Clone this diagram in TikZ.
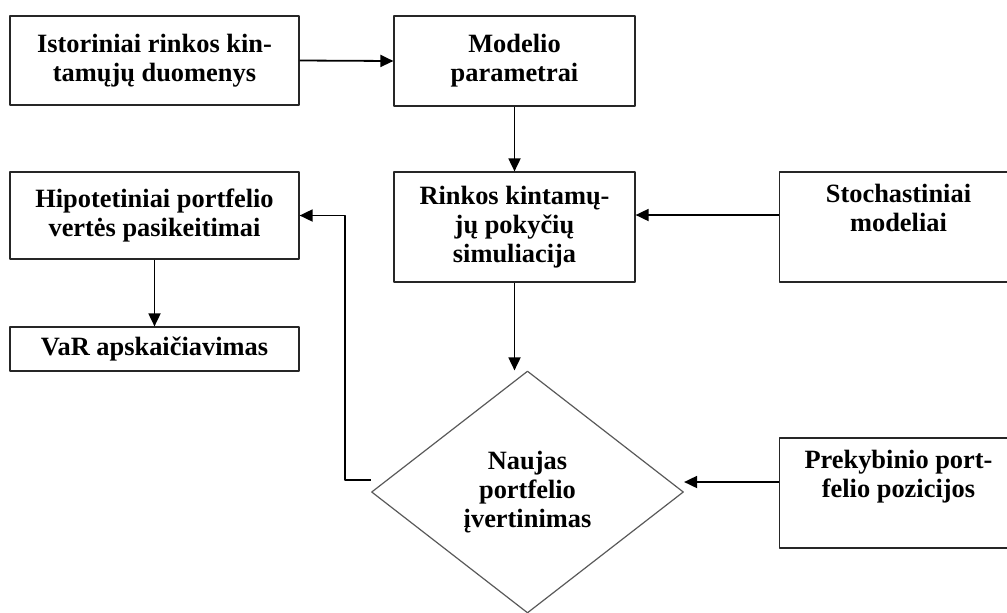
\documentclass[tikz,border=0pt]{standalone}
\usepackage{fontspec}
\setmainfont{Liberation Serif}
\usetikzlibrary{shapes.geometric,arrows.meta}
\begin{document}
\begin{tikzpicture}[x=0.5pt, y=-0.5pt, line join=round,
    font=\fontsize{13.2}{14.6}\selectfont\bfseries,
    >={Triangle[length=6.5pt,width=6pt]},
    blokas/.style={draw=black!85, line width=0.6pt, fill=white, align=center, inner sep=0pt},
    rombas/.style={draw=black!65, line width=0.6pt, diamond, align=center, inner sep=0pt,
        minimum width=156pt, minimum height=121pt},
    rodykle/.style={->, line width=0.9pt}]
    \useasboundingbox (0,0) rectangle (1007,612);
    % blokai
    \node[blokas, minimum width=144.5pt, minimum height=44.5pt] (istor) at (154.5,60.5)
        {Istoriniai rinkos kin-\\tamųjų duomenys};
    \node[blokas, minimum width=120.5pt, minimum height=45pt] (param) at (514.5,61)
        {Modelio\\parametrai};
    \node[blokas, minimum width=120.5pt, minimum height=55pt] (simul) at (514.5,227)
        {Rinkos kintamų-\\jų pokyčių\\simuliacija};
    \node[blokas, minimum width=119pt, minimum height=55pt] (stoch) at (898.5,227)
        {Stochastiniai\\modeliai\\\strut};
    \node[blokas, minimum width=144.5pt, minimum height=43.5pt] (hipot) at (154.5,215.5)
        {Hipotetiniai portfelio\\vertės pasikeitimai};
    \node[blokas, minimum width=144.5pt, minimum height=22pt] (var) at (154.5,349)
        {VaR apskaičiavimas};
    \node[blokas, minimum width=119pt, minimum height=55pt] (prek) at (898.5,493)
        {Prekybinio port-\\felio pozicijos\\\strut};
    \node[rombas] (naujas) at (527.5,492) {Naujas\\portfelio\\įvertinimas};
    % rodyklės
    \draw[rodykle] (istor.east) -- (param.west);
    \draw[rodykle] (param.south) -- (simul.north);
    \draw[rodykle] ([yshift=6pt]stoch.west) -- ([yshift=6pt]simul.east);
    \draw[rodykle] (simul.south) -- (simul.south |- naujas.north);
    \draw[rodykle] (hipot.south) -- (var.north);
    \path ([yshift=5.5pt]prek.west) coordinate (p1)
          ([yshift=6pt]naujas.west) coordinate (n1);
    \draw[rodykle] (p1) -- (p1 -| naujas.east);
    \draw[rodykle] (n1) -- ++(-26,0) |- (hipot.east);
\end{tikzpicture}
\end{document}
